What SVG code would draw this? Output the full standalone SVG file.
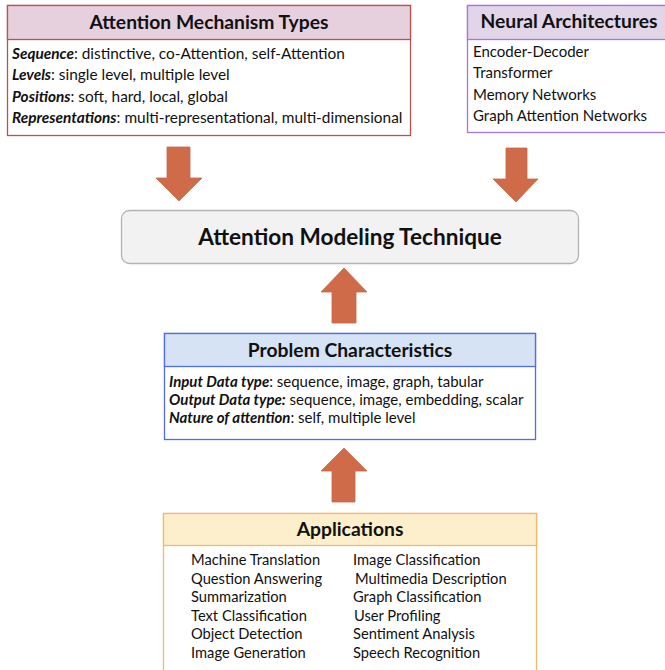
<svg xmlns="http://www.w3.org/2000/svg" width="665" height="670" viewBox="0 0 665 670">
<style>
text{font-family:Lato,"Noto Sans",sans-serif;fill:#111}
.t{font-weight:bold;font-size:19.3px;text-anchor:middle}
.b{font-size:15px}
.b1{font-size:15.4px}
.a{font-size:14.7px}
.i{font-weight:bold;font-style:italic}
.arr{fill:#d06b4a;stroke:#c8684a;stroke-width:0.8}
</style>
<rect width="665" height="670" fill="#fff"/>
<g id="mechanism-types">
<rect x="7.5" y="5.5" width="403" height="130" fill="#fff" stroke="#b85450" stroke-width="1.3"/>
<rect x="7.5" y="5.5" width="403" height="34" fill="#e6d0de" stroke="#b85450" stroke-width="1.3"/>
<text class="t" x="209" y="29">Attention Mechanism Types</text>
<text class="b1" x="12" y="59"><tspan class="i">Sequence</tspan>: distinctive, co-Attention, self-Attention</text>
<text class="b1" x="12" y="80"><tspan class="i">Levels</tspan>: single level, multiple level</text>
<text class="b1" x="12" y="102"><tspan class="i">Positions</tspan>: soft, hard, local, global</text>
<text class="b1" x="12" y="123"><tspan class="i">Representations</tspan>: multi-representational, multi-dimensional</text>
</g>
<g id="neural-architectures">
<rect x="467.5" y="5.5" width="210" height="127" fill="#fff" stroke="#a774e6" stroke-width="1.3"/>
<rect x="467.5" y="5.5" width="210" height="34" fill="#e1d5e7" stroke="#a774e6" stroke-width="1.3"/>
<text class="t" x="569" y="28">Neural Architectures</text>
<text class="b" x="473" y="57">Encoder-Decoder</text>
<text class="b" x="473" y="78">Transformer</text>
<text class="b" x="473" y="100">Memory Networks</text>
<text class="b" x="473" y="121">Graph Attention Networks</text>
</g>
<g id="modeling-technique">
<rect x="121.5" y="210.5" width="457" height="53" rx="8" fill="#f2f2f2" stroke="#b3b3b3" stroke-width="1.3"/>
<text x="350" y="245" style="font-weight:bold;font-size:22.6px;text-anchor:middle">Attention Modeling Technique</text>
</g>
<g id="problem-characteristics">
<rect x="164.5" y="333.5" width="371" height="106" fill="#fff" stroke="#4f6cf2" stroke-width="1.3"/>
<rect x="164.5" y="333.5" width="371" height="33" fill="#d5e3f5" stroke="#4f6cf2" stroke-width="1.3"/>
<text class="t" x="350" y="357">Problem Characteristics</text>
<text class="b" x="169" y="387"><tspan class="i">Input Data type</tspan>: sequence, image, graph, tabular</text>
<text class="b" x="169" y="405"><tspan class="i">Output Data type:</tspan> sequence, image, embedding, scalar</text>
<text class="b" x="169" y="423"><tspan class="i">Nature of attention</tspan>: self, multiple level</text>
</g>
<g id="applications">
<rect x="163.5" y="513.5" width="373" height="170" fill="#fff" stroke="#f5b66e" stroke-width="1.3"/>
<rect x="163.5" y="513.5" width="373" height="32" fill="#fdefcc" stroke="#f5b66e" stroke-width="1.3"/>
<text class="t" x="350" y="536">Applications</text>
<text class="a" x="191" y="565">Machine Translation</text>
<text class="a" x="191" y="584">Question Answering</text>
<text class="a" x="191" y="602">Summarization</text>
<text class="a" x="191" y="621">Text Classification</text>
<text class="a" x="191" y="639">Object Detection</text>
<text class="a" x="191" y="658">Image Generation</text>
<text class="a" x="353" y="565">Image Classification</text>
<text class="a" x="355" y="584">Multimedia Description</text>
<text class="a" x="353" y="602">Graph Classification</text>
<text class="a" x="354" y="621">User Profiling</text>
<text class="a" x="353" y="639">Sentiment Analysis</text>
<text class="a" x="353" y="658">Speech Recognition</text>
</g>
<g id="connectors">
<polygon class="arr" points="167,147 190,147 190,178 202,178 179,201 156,178 167,178"/>
<polygon class="arr" points="506,148 527,148 527,179 538,179 516,202 493,179 506,179"/>
<polygon class="arr" points="332,323 356,323 356,292 367,292 344,268 321,292 332,292"/>
<polygon class="arr" points="332,502 355,502 355,471 367,471 344,448 321,471 332,471"/>
</g>
</svg>
